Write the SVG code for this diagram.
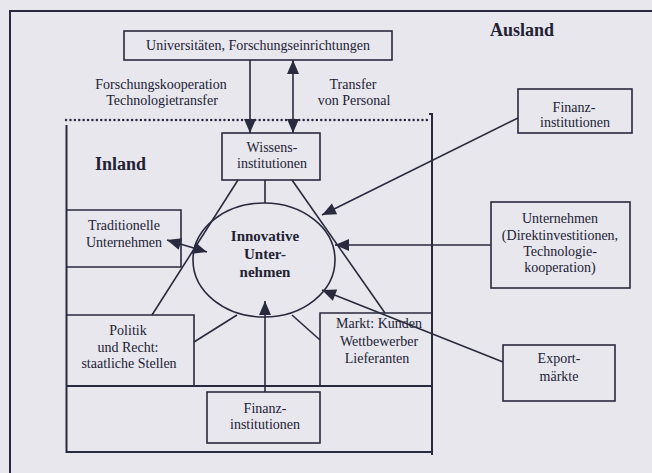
<svg xmlns="http://www.w3.org/2000/svg" width="652" height="473" viewBox="0 0 652 473">
<style>
  .ln { stroke: #2a2a3e; stroke-width: 1.6; fill: none; }
  .bx { stroke: #2a2a3e; stroke-width: 1.6; fill: none; }
  .fr { stroke: #2a2a3e; stroke-width: 2; fill: none; }
  .t { font-family: "Liberation Serif", "Times New Roman", serif; font-size: 14px; fill: #222233; text-anchor: middle; }
  .b { font-family: "Liberation Serif", "Times New Roman", serif; font-weight: bold; fill: #222233; }
</style>
<defs>
  <marker id="ah" markerWidth="14" markerHeight="12" refX="14" refY="6" orient="auto-start-reverse" markerUnits="userSpaceOnUse" overflow="visible">
    <path d="M0,0 L14,6 L0,12 z" fill="#2a2a3e"/>
  </marker>
</defs>
<rect x="0" y="0" width="652" height="473" fill="#e8e7ee"/>

<!-- frames -->
<g id="frames">
  <path class="fr" d="M10,473 V11 H652"/>
  <line x1="66" y1="120" x2="430" y2="120" stroke="#2a2a3e" stroke-width="2.4" stroke-linecap="round" stroke-dasharray="0.1 4.3"/>
  <path class="fr" d="M429,114 H432 V455"/>
  <path class="fr" d="M66.5,125 V452 H432"/>
  <line class="fr" x1="66" y1="386" x2="432" y2="386"/>
</g>

<g id="ausland-label"><text class="b" x="490" y="36" font-size="18">Ausland</text></g>
<g id="inland-label"><text class="b" x="95" y="170" font-size="18">Inland</text></g>

<g id="universitaeten">
  <rect class="bx" x="124" y="31" width="268" height="29"/>
  <text class="t" x="258" y="50">Universitäten, Forschungseinrichtungen</text>
</g>

<g id="label-forschung">
  <text class="t" x="161" y="89">Forschungskooperation</text>
  <text class="t" x="162" y="105">Technologietransfer</text>
</g>
<g id="label-transfer">
  <text class="t" x="353" y="89">Transfer</text>
  <text class="t" x="354" y="105">von Personal</text>
</g>

<g id="wissens">
  <rect class="bx" x="222" y="133" width="98" height="47"/>
  <text class="t" x="272" y="152">Wissens-</text>
  <text class="t" x="272" y="168">institutionen</text>
</g>

<g id="innovative">
  <ellipse class="bx" cx="264" cy="260" rx="71" ry="57"/>
  <text class="b" x="265" y="241" font-size="15" text-anchor="middle">Innovative</text>
  <text class="b" x="265" y="259" font-size="15" text-anchor="middle">Unter-</text>
  <text class="b" x="265" y="277" font-size="15" text-anchor="middle">nehmen</text>
</g>

<g id="traditionelle">
  <path class="bx" d="M66,210 H181 V267 H66"/>
  <text class="t" x="124" y="230">Traditionelle</text>
  <text class="t" x="124" y="247">Unternehmen</text>
</g>

<g id="politik">
  <path class="bx" d="M66,315 H194 V386"/>
  <text class="t" x="128" y="335">Politik</text>
  <text class="t" x="128" y="352">und Recht:</text>
  <text class="t" x="129" y="368">staatliche Stellen</text>
</g>

<g id="markt">
  <path class="bx" d="M432,313 H320 V386"/>
  <text class="t" x="379" y="328">Markt: Kunden</text>
  <text class="t" x="379" y="346">Wettbewerber</text>
  <text class="t" x="377" y="363">Lieferanten</text>
</g>

<g id="finanz-inland">
  <rect class="bx" x="207" y="392" width="113" height="51"/>
  <text class="t" x="265" y="413">Finanz-</text>
  <text class="t" x="265" y="429">institutionen</text>
</g>

<g id="finanz-ausland">
  <rect class="bx" x="518" y="89" width="114" height="44"/>
  <text class="t" x="574" y="112">Finanz-</text>
  <text class="t" x="575" y="127">institutionen</text>
</g>

<g id="unternehmen-ausland">
  <rect class="bx" x="491" y="202" width="139" height="86"/>
  <text class="t" x="560" y="223">Unternehmen</text>
  <text class="t" x="560" y="240">(Direktinvestitionen,</text>
  <text class="t" x="560" y="256">Technologie-</text>
  <text class="t" x="560" y="272">kooperation)</text>
</g>

<g id="export">
  <rect class="bx" x="503" y="345" width="112" height="56"/>
  <text class="t" x="559" y="363">Export-</text>
  <text class="t" x="559" y="381">märkte</text>
</g>

<g id="connectors">
  <line class="ln" x1="250" y1="60" x2="250" y2="133" marker-end="url(#ah)"/>
  <line class="ln" x1="293" y1="60" x2="293" y2="133" marker-start="url(#ah)" marker-end="url(#ah)"/>
  <line class="ln" x1="265" y1="180" x2="265" y2="203"/>
  <line class="ln" x1="238" y1="180" x2="152" y2="315"/>
  <line class="ln" x1="292" y1="180" x2="385" y2="313"/>
  <line class="ln" x1="167" y1="240" x2="207" y2="252" marker-start="url(#ah)" marker-end="url(#ah)"/>
  <line class="ln" x1="194" y1="342" x2="237" y2="315"/>
  <line class="ln" x1="320" y1="340" x2="292" y2="315"/>
  <line class="ln" x1="265" y1="392" x2="265" y2="301" marker-end="url(#ah)"/>
  <line class="ln" x1="518" y1="118" x2="322" y2="215" marker-end="url(#ah)"/>
  <line class="ln" x1="491" y1="245" x2="335" y2="245" marker-end="url(#ah)"/>
  <line class="ln" x1="503" y1="362" x2="322" y2="290" marker-end="url(#ah)"/>
</g>
</svg>
